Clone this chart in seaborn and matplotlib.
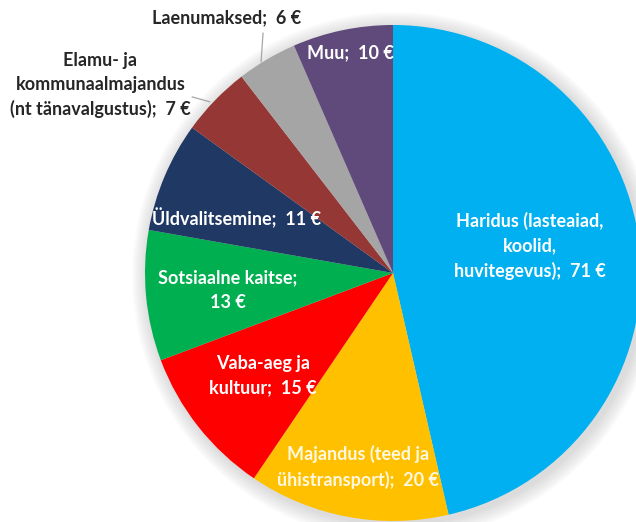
import matplotlib
matplotlib.use("Agg")
import matplotlib.pyplot as plt
import seaborn as sns
from matplotlib.patches import Circle

sns.set_theme(style="white")
plt.rcParams['font.family'] = ['Lato', 'DejaVu Sans']

categories = ["Haridus", "Majandus", "Vaba-aeg ja kultuur", "Sotsiaalne kaitse",
              "Üldvalitsemine", "Elamu- ja kommunaalmajandus", "Laenumaksed", "Muu"]
values = [71, 20, 15, 13, 11, 7, 6, 10]
colors = ["#00B0F0", "#FFC000", "#FF0000", "#00B050", "#1F3864", "#953735", "#A5A5A5", "#604A7B"]
label_texts = ["Haridus (lasteaiad,\nkoolid,\nhuvitegevus);  71 €",
               "Majandus (teed ja\nühistransport);  20 €",
               "Vaba-aeg ja\nkultuur;  15 €",
               "Sotsiaalne kaitse;\n13 €",
               "Üldvalitsemine;  11 €",
               "Elamu- ja\nkommunaalmajandus\n(nt tänavalgustus);  7 €",
               "Laenumaksed;  6 €",
               "Muu;  10 €"]
label_pos = [(0.552, 0.109), (-0.141, -0.782), (-0.524, -0.415), (-0.665, -0.069),
             (-0.629, 0.222), (-1.18, 0.758), (-0.669, 1.028), (-0.173, 0.887)]
label_col = ["white", "#FFF8E0", "white", "white", "white", "#262626", "#262626", "white"]
leaders = {5: ((-0.810, 0.710), (-0.738, 0.690)), 6: ((-0.524, 0.968), (-0.532, 0.851))}

W, H = 636, 522
fig = plt.figure(figsize=(W / 100, H / 100), dpi=100)
fig.patch.set_facecolor("white")
cx, cy, R = 393, 273, 248
ax = fig.add_axes([(cx - R) / W, (H - cy - R) / H, 2 * R / W, 2 * R / H])
ax.set_xlim(-1, 1)
ax.set_ylim(-1, 1)
ax.set_aspect("equal")
ax.axis("off")

# soft shadow
for i in range(8):
    ax.add_patch(Circle((0.012, -0.012), 1.0 + 0.008 * (i + 1), color="#808080",
                        alpha=0.035, lw=0, zorder=0, clip_on=False))

ax.pie(values, colors=colors, startangle=90, counterclock=False, radius=1,
       wedgeprops=dict(linewidth=0), normalize=True)
ax.set_xlim(-1, 1)
ax.set_ylim(-1, 1)

for txt, (x, y), c in zip(label_texts, label_pos, label_col):
    ax.text(x, y, txt, ha="center", va="center", color=c, fontsize=13,
            fontweight="bold", linespacing=1.5, clip_on=False)

for (p1, p2) in leaders.values():
    ax.plot([p1[0], p2[0]], [p1[1], p2[1]], color="#A6A6A6", lw=0.9, clip_on=False)

fig.savefig("out.png", dpi=100, facecolor="white")
